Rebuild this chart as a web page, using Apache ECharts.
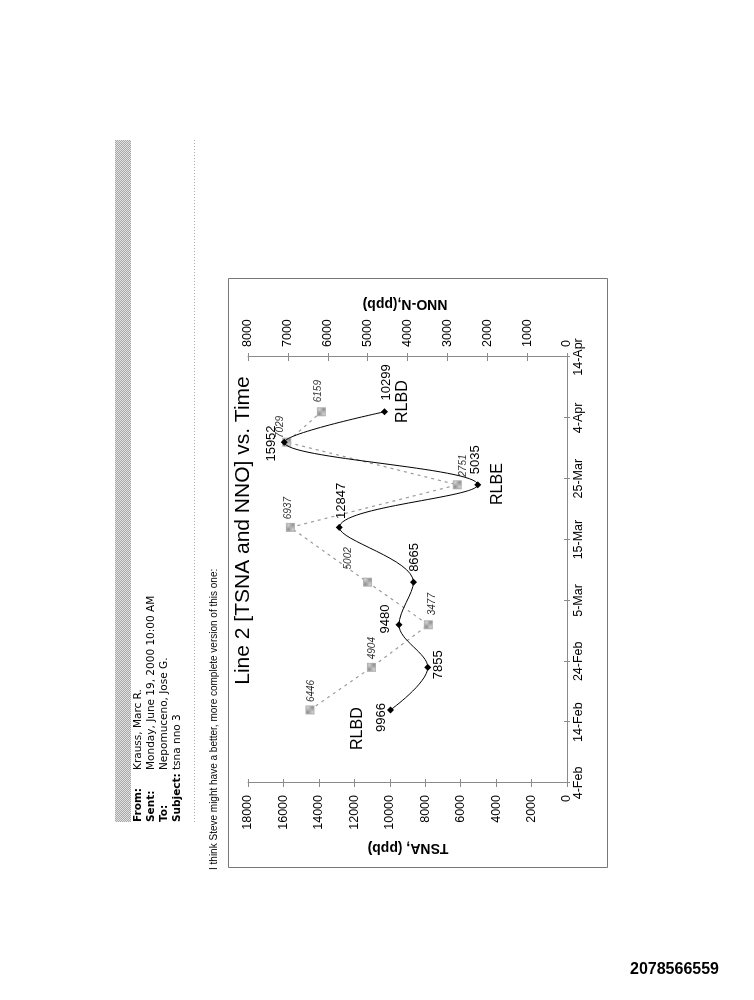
<!DOCTYPE html>
<html><head><meta charset="utf-8">
<script src="https://cdn.jsdelivr.net/npm/echarts@6/dist/echarts.min.js"></script>
<style>
html,body{margin:0;padding:0;background:#fff;width:754px;height:1000px;overflow:hidden;}
#page{position:absolute;left:0;top:0;width:1000px;height:754px;transform-origin:0 0;transform:translate(0px,1000px) rotate(-90deg);}
</style></head>
<body><div id="page"></div>
<script>
// ---- data ----
const startDate = '2000-02-04';
const sampleDates = ['2000-02-16','2000-02-23','2000-03-01','2000-03-08','2000-03-17','2000-03-24','2000-03-31','2000-04-05'];
const tsnaValues = [9966, 7855, 9480, 8665, 12847, 5035, 15952, 10299];
const nnoValues  = [6446, 4904, 3477, 5002, 6937, 2751, 7029, 6159];
const xTickLabels = ['4-Feb','14-Feb','24-Feb','5-Mar','15-Mar','25-Mar','4-Apr','14-Apr'];
const chartTitle = 'Line 2 [TSNA and NNO] vs. Time';
const tsnaAxisTitle = 'TSNA, (ppb)';
const nnoAxisTitle = 'NNO-N,(ppb)';
const headerLabels = ['From:','Sent:','To:','Subject:'];
const headerValues = ['Krauss, Marc R.','Monday, June 19, 2000 10:00 AM','Nepomuceno, Jose G.','tsna nno 3'];
const noteText = 'I think Steve might have a better, more complete version of this one:';
const docId = '2078566559';

// ---- label layout (style only) ----
const tsnaLabelLayout = [['top',-7.5,6.5],['bottom',2.7,-4.7],['top',5.7,1.8],['right',1.8,1.3],['right',0,1.7],['right',2,-2.7],['top',-1.3,2.5],['right',2.8,1.7]];
const nnoLabelLayout  = [['right',-1.6,1],['right',-1.4,0.3],['right',0,4.2],['right',3.2,-19.2],['right',-1.4,-1.7],['right',-1.4,6.3],['right',-5.4,-6.8],['right',0,-2.7]];

const FONT = 'Liberation Sans, Arial, sans-serif';
const HFONT = 'DejaVu Sans, Verdana, sans-serif';
const dayMs = 86400000;
const dayOf = d => (Date.parse(d) - Date.parse(startDate)) / dayMs;

function checker(c1, c2) {
  const cv = document.createElement('canvas'); cv.width = 2; cv.height = 2;
  const g = cv.getContext('2d');
  g.fillStyle = c1; g.fillRect(0,0,2,2);
  g.fillStyle = c2; g.fillRect(0,0,1,1); g.fillRect(1,1,1,1);
  return {image: cv, repeat: 'repeat'};
}

const chart = echarts.init(document.getElementById('page'), null, {width:1000, height:754});
const axisGray = '#8a8a8a';
const plain = v => String(v);
const valAxisBase = {
  type:'value', splitLine:{show:false},
  axisLine:{show:true, onZero:false, lineStyle:{color:axisGray, width:1}},
  axisTick:{show:true, length:4, lineStyle:{color:axisGray}},
  axisLabel:{fontSize:12.5, color:'#000', fontFamily:FONT, formatter:plain}
};
const hiddenLine = {show:false, onZero:false};
const option = {
  animation:false,
  backgroundColor:'#fff',
  grid:{left:217, right:357, top:248, bottom:187, containLabel:false},
  xAxis:[
    Object.assign({}, valAxisBase, {min:0, max:70, interval:10, position:'bottom',
      axisTick:{show:true, length:3, lineStyle:{color:axisGray}},
      axisLabel:{fontSize:12.5, color:'#000', fontFamily:FONT, margin:5, formatter:v=>xTickLabels[Math.round(v/10)]}}),
    Object.assign({}, valAxisBase, {min:0, max:70, interval:10, position:'bottom',
      axisLine:hiddenLine, axisLabel:{show:false}, axisTick:{show:true, inside:true, length:3, lineStyle:{color:axisGray}}})
  ],
  yAxis:[
    Object.assign({}, valAxisBase, {min:0, max:18000, interval:2000, position:'left',
      axisLabel:{fontSize:12.5, color:'#000', fontFamily:FONT, margin:12, formatter:plain}}),
    Object.assign({}, valAxisBase, {min:0, max:8000, interval:1000, position:'right',
      axisLabel:{fontSize:12.5, color:'#000', fontFamily:FONT, margin:10, formatter:plain}}),
    Object.assign({}, valAxisBase, {min:0, max:18000, interval:2000, position:'left',
      axisLine:hiddenLine, axisLabel:{show:false}, axisTick:{show:true, inside:true, length:4, lineStyle:{color:axisGray}}}),
    Object.assign({}, valAxisBase, {min:0, max:8000, interval:1000, position:'right',
      axisLine:hiddenLine, axisLabel:{show:false}, axisTick:{show:true, inside:true, length:4, lineStyle:{color:axisGray}}})
  ],
  series:[
    {
      name:'NNO-N', type:'line', xAxisIndex:0, yAxisIndex:1, smooth:false,
      symbol:'rect', symbolSize:9, showAllSymbol:true, z:2,
      lineStyle:{color:'#9a9a9a', width:1.2, type:[3,4]},
      itemStyle:{color:checker('#d6d6d6','#8c8c8c')},
      label:{show:true, formatter:p=>p.value[1], fontSize:10, fontStyle:'italic', color:'#333', fontFamily:FONT},
      data: sampleDates.map((d,i)=>({value:[dayOf(d), nnoValues[i]],
        label:{position:nnoLabelLayout[i][0], offset:[nnoLabelLayout[i][1], nnoLabelLayout[i][2]]}}))
    },
    {
      name:'RLBD TSNA', type:'line', xAxisIndex:0, yAxisIndex:0, smooth:0.35,
      symbol:'diamond', symbolSize:7, showAllSymbol:true, z:3,
      lineStyle:{color:'#000', width:1}, itemStyle:{color:'#000'},
      label:{show:true, formatter:p=>p.value[1], fontSize:13, color:'#000', fontFamily:FONT},
      data: sampleDates.map((d,i)=>({value:[dayOf(d), tsnaValues[i]],
        label:{position:tsnaLabelLayout[i][0], offset:[tsnaLabelLayout[i][1], tsnaLabelLayout[i][2]]}}))
    }
  ],
  graphic:[
    // chart frame
    {type:'rect', shape:{x:132.5, y:228.5, width:589, height:379}, style:{fill:null, stroke:'#777', lineWidth:1}, silent:true},
    // title
    {type:'text', x:469.5, y:243, style:{text:chartTitle, font:'21px '+FONT, fill:'#000', align:'center', verticalAlign:'middle'}},
    // axis titles
    {type:'text', x:152, y:408, rotation:Math.PI/2, style:{text:tsnaAxisTitle, font:'bold 14px '+FONT, fill:'#000', align:'center', verticalAlign:'middle'}},
    {type:'text', x:696, y:405, rotation:Math.PI/2, style:{text:nnoAxisTitle, font:'bold 14px '+FONT, fill:'#000', align:'center', verticalAlign:'middle'}},
    // annotations
    {type:'text', x:250, y:357.5, style:{text:'RLBD', font:'16px '+FONT, fill:'#000', align:'left', verticalAlign:'middle'}},
    {type:'text', x:577, y:402.5, style:{text:'RLBD', font:'16px '+FONT, fill:'#000', align:'left', verticalAlign:'middle'}},
    {type:'text', x:495, y:498, style:{text:'RLBE', font:'16px '+FONT, fill:'#000', align:'left', verticalAlign:'middle'}},
    // email header
    {type:'rect', shape:{x:178, y:115, width:682, height:16}, style:{fill:checker('#e2e2e2','#a8a8a8')}, silent:true},
    {type:'line', shape:{x1:178, y1:194.5, x2:860, y2:194.5}, style:{stroke:'#aaa', lineWidth:1, lineDash:[1,2]}, silent:true},
    ...headerLabels.map((t,i)=>({type:'text', x:178, y:138+13*i, style:{text:t, font:'bold 10.5px '+HFONT, fill:'#000', align:'left', verticalAlign:'middle'}})),
    ...headerValues.map((t,i)=>({type:'text', x:230, y:138+13*i, style:{text:t, font:'10.5px '+HFONT, fill:'#000', align:'left', verticalAlign:'middle'}})),
    {type:'text', x:130, y:214, style:{text:noteText, font:'10px '+FONT, fill:'#000', align:'left', verticalAlign:'middle'}},
    // document id (reads horizontally on the photographed page)
    {type:'text', x:30, y:674.5, rotation:-Math.PI/2, style:{text:docId, font:'bold 16px '+FONT, fill:'#000', align:'center', verticalAlign:'middle'}}
  ]
};
chart.setOption(option);
</script>
</body></html>
